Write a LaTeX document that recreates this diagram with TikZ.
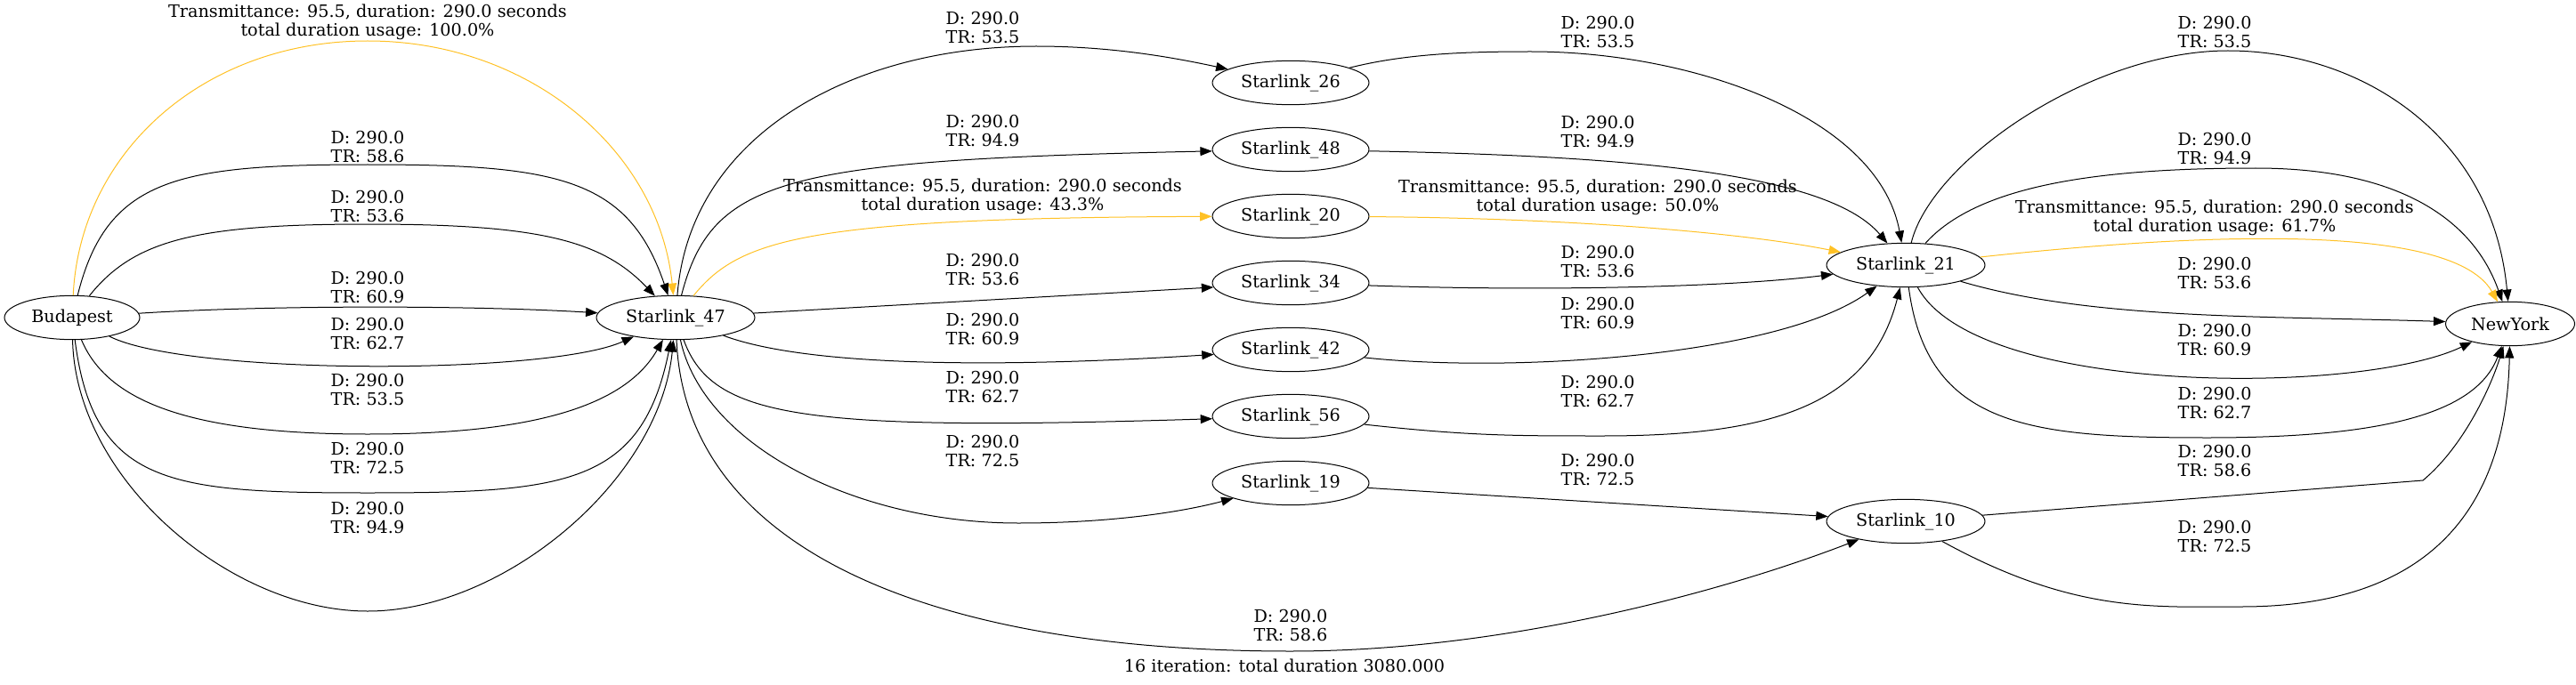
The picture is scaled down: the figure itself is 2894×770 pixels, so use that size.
\documentclass[tikz,border=0pt]{standalone}
\usepackage{fontspec}
\setmainfont{DejaVu Serif}
\usepackage{tikz}
\usetikzlibrary{arrows.meta}
\usetikzlibrary{shapes.geometric}
\tikzset{sat/.style = {draw, ellipse, line width = 0.75pt, inner sep = 0, minimum height = 37pt}}
\tikzset{lbl/.style = {align = center, inner sep = 0}}
\tikzset{link/.style = {line width = 0.75pt, -{Triangle[length = 10pt, width = 7.5pt]}}}
\definecolor{gold}{RGB}{255, 193, 37}
\newcommand{\dtrlabel}[1]{D: 290.0\\TR: #1}
\newcommand{\bestlabel}[1]{Transmittance: 95.5, duration: 290.0 seconds\\total duration usage: #1\%}

\begin{document}
\begin{tikzpicture}[x = 0.75pt, y = -0.75pt, every node/.style = {font = \fontsize{14.4}{15.75}\selectfont}]
      \useasboundingbox (0, 0) rectangle (2894, 770);

      \node [sat, minimum width = 114pt] (bud) at (81, 357) {Budapest};
      \node [sat, minimum width = 133.5pt] (s47) at (759, 357) {Starlink\_47};

      \node [sat, minimum width = 132pt] (s26) at (1450, 93) {Starlink\_26};
      \node [sat, minimum width = 132pt] (s48) at (1450, 168) {Starlink\_48};
      \node [sat, minimum width = 132pt] (s20) at (1450, 243) {Starlink\_20};
      \node [sat, minimum width = 132pt] (s34) at (1450, 318) {Starlink\_34};
      \node [sat, minimum width = 132pt] (s42) at (1450, 393) {Starlink\_42};
      \node [sat, minimum width = 132pt] (s56) at (1450, 468) {Starlink\_56};
      \node [sat, minimum width = 132pt] (s19) at (1450, 543) {Starlink\_19};

      \node [sat, minimum width = 133.5pt] (s21) at (2141, 298) {Starlink\_21};
      \node [sat, minimum width = 133.5pt] (s10) at (2141, 586) {Starlink\_10};
      \node [sat, minimum width = 108.75pt] (ny) at (2820, 364) {NewYork};

      % Budapest -> Starlink_47
      \draw [link, gold] (bud) .. controls (90, 170) and (230, 46) .. (413, 46) .. controls (596, 46) and (740, 170) .. (s47);
      \draw [link] (bud) .. controls (120, 200) and (200, 185) .. (413, 185) .. controls (626, 185) and (706, 200) .. (s47);
      \draw [link] (bud) .. controls (150, 270) and (220, 252) .. (413, 252) .. controls (606, 252) and (676, 270) .. (s47);
      \draw [link] (bud) .. controls (300, 343) and (526, 343) .. (s47);
      \draw [link] (bud) .. controls (210, 422) and (616, 422) .. (s47);
      \draw [link] (bud) .. controls (120, 450) and (210, 488) .. (413, 488) .. controls (616, 488) and (706, 450) .. (s47);
      \draw [link] (bud) .. controls (105, 545) and (190, 554) .. (413, 554) .. controls (636, 554) and (721, 545) .. (s47);
      \draw [link] (bud) .. controls (85, 540) and (260, 687) .. (413, 687) .. controls (566, 687) and (741, 540) .. (s47);

      \node [lbl] (lb1) at (413, 25) {\bestlabel{100.0}};
      \node [lbl] (lb2) at (413, 165) {\dtrlabel{58.6}};
      \node [lbl] (lb3) at (413, 232) {\dtrlabel{53.6}};
      \node [lbl] (lb4) at (413, 323) {\dtrlabel{60.9}};
      \node [lbl] (lb5) at (413, 375) {\dtrlabel{62.7}};
      \node [lbl] (lb6) at (413, 438) {\dtrlabel{53.5}};
      \node [lbl] (lb7) at (413, 515) {\dtrlabel{72.5}};
      \node [lbl] (lb8) at (413, 582) {\dtrlabel{94.9}};

      % Starlink_47 -> middle column
      \draw [link] (s47) .. controls (775, 150) and (960, 52) .. (1164, 52) .. controls (1250, 52) and (1320, 65) .. (s26);
      \draw [link] (s47) .. controls (800, 200) and (880, 180) .. (s48);
      \draw [link, gold] (s47) .. controls (830, 270) and (900, 245) .. (s20);
      \draw [link] (s47) -- (s34);
      \draw [link] (s47) .. controls (900, 410) and (1100, 415) .. (s42);
      \draw [link] (s47) .. controls (800, 470) and (900, 485) .. (s56);
      \draw [link] (s47) .. controls (790, 500) and (960, 588) .. (1144, 588) .. controls (1250, 588) and (1330, 575) .. (s19);
      \draw [link] (s47) .. controls (770, 620) and (1050, 732) .. (1450, 732) .. controls (1700, 732) and (1950, 660) .. (s10);

      \node [lbl] (lm1) at (1104, 31) {\dtrlabel{53.5}};
      \node [lbl] (lm2) at (1104, 147) {\dtrlabel{94.9}};
      \node [lbl] (lm3) at (1104, 221) {\bestlabel{43.3}};
      \node [lbl] (lm4) at (1104, 303) {\dtrlabel{53.6}};
      \node [lbl] (lm5) at (1104, 370) {\dtrlabel{60.9}};
      \node [lbl] (lm6) at (1104, 435) {\dtrlabel{62.7}};
      \node [lbl] (lm7) at (1104, 507) {\dtrlabel{72.5}};
      \node [lbl] (lm8) at (1450, 703) {\dtrlabel{58.6}};

      % middle column -> Starlink_21 and Starlink_10
      \draw [link] (s26) .. controls (1580, 60) and (1650, 58) .. (1720, 58) .. controls (1900, 58) and (2110, 130) .. (s21);
      \draw [link] (s48) .. controls (1800, 175) and (2050, 190) .. (s21);
      \draw [link, gold] (s20) .. controls (1750, 245) and (1950, 260) .. (s21);
      \draw [link] (s34) .. controls (1750, 328) and (1950, 322) .. (s21);
      \draw [link] (s42) .. controls (1700, 420) and (2000, 400) .. (s21);
      \draw [link] (s56) .. controls (1650, 490) and (1700, 490) .. (1800, 490) .. controls (1980, 490) and (2100, 460) .. (s21);
      \draw [link] (s19) -- (s10);

      \node [lbl] (lr1) at (1795, 36) {\dtrlabel{53.5}};
      \node [lbl] (lr2) at (1795, 148) {\dtrlabel{94.9}};
      \node [lbl] (lr3) at (1795, 222) {\bestlabel{50.0}};
      \node [lbl] (lr4) at (1795, 294) {\dtrlabel{53.6}};
      \node [lbl] (lr5) at (1795, 352) {\dtrlabel{60.9}};
      \node [lbl] (lr6) at (1795, 440) {\dtrlabel{62.7}};
      \node [lbl] (lr7) at (1795, 528) {\dtrlabel{72.5}};

      % Starlink_21 and Starlink_10 -> NewYork
      \draw [link] (s21) .. controls (2170, 180) and (2350, 57) .. (2503, 57) .. controls (2650, 57) and (2800, 150) .. (ny);
      \draw [link] (s21) .. controls (2220, 210) and (2350, 189) .. (2534, 189) .. controls (2700, 189) and (2780, 250) .. (ny);
      \draw [link, gold] (s21) .. controls (2400, 270) and (2750, 240) .. (ny);
      \draw [link] (s21) .. controls (2350, 360) and (2550, 355) .. (ny);
      \draw [link] (s21) .. controls (2220, 445) and (2650, 445) .. (ny);
      \draw [link] (s21) .. controls (2165, 480) and (2280, 492) .. (2480, 492) .. controls (2660, 492) and (2780, 470) .. (ny);
      \draw [link] (s10) -- (2722, 540) .. controls (2770, 500) and (2800, 430) .. (ny);
      \draw [link] (s10) .. controls (2330, 690) and (2420, 682) .. (2518, 682) .. controls (2700, 682) and (2815, 600) .. (ny);

      \node [lbl] (ln1) at (2488, 36) {\dtrlabel{53.5}};
      \node [lbl] (ln2) at (2488, 167) {\dtrlabel{94.9}};
      \node [lbl] (ln3) at (2488, 245) {\bestlabel{61.7}};
      \node [lbl] (ln4) at (2488, 307) {\dtrlabel{53.6}};
      \node [lbl] (ln5) at (2488, 382) {\dtrlabel{60.9}};
      \node [lbl] (ln6) at (2488, 453) {\dtrlabel{62.7}};
      \node [lbl] (ln7) at (2488, 518) {\dtrlabel{58.6}};
      \node [lbl] (ln8) at (2488, 603) {\dtrlabel{72.5}};

      \node [lbl] (total) at (1443, 748) {16 iteration: total duration 3080.000};
    \end{tikzpicture}
\end{document}
